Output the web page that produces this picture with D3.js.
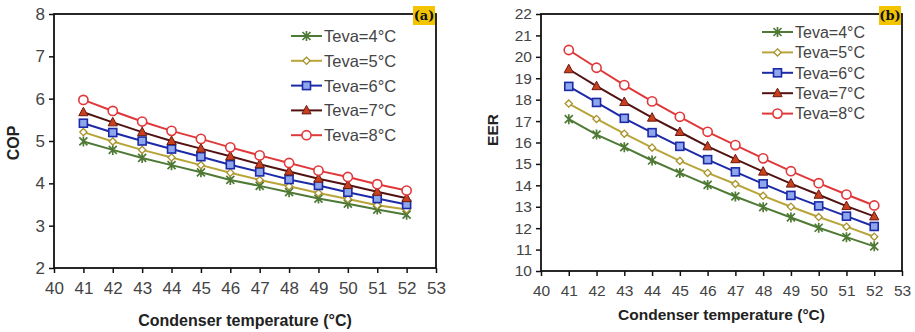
<!DOCTYPE html>
<html>
<head>
<meta charset="utf-8">
<script src="https://cdn.jsdelivr.net/npm/d3@7"></script>
<style>
  body { margin: 0; background: #fff; }
  svg { display: block; font-family: Arial, "Liberation Sans", sans-serif; }
</style>
</head>
<body>
<svg id="chart" width="915" height="332"></svg>
<script>
// condenser temperatures (°C)
const condTemps = [41, 42, 43, 44, 45, 46, 47, 48, 49, 50, 51, 52];
const seriesNames = ["Teva=4°C", "Teva=5°C", "Teva=6°C", "Teva=7°C", "Teva=8°C"];
const xTicks = [40, 41, 42, 43, 44, 45, 46, 47, 48, 49, 50, 51, 52, 53];

// panel (a) COP
const cop4 = [4.99, 4.79, 4.60, 4.43, 4.26, 4.08, 3.94, 3.79, 3.64, 3.52, 3.38, 3.26];
const cop5 = [5.21, 4.99, 4.79, 4.61, 4.43, 4.25, 4.08, 3.93, 3.77, 3.63, 3.48, 3.38];
const cop6 = [5.42, 5.20, 5.00, 4.81, 4.63, 4.44, 4.27, 4.09, 3.95, 3.79, 3.64, 3.50];
const cop7 = [5.68, 5.44, 5.21, 5.00, 4.82, 4.64, 4.45, 4.28, 4.11, 3.96, 3.80, 3.65];
const cop8 = [5.97, 5.71, 5.46, 5.24, 5.05, 4.85, 4.66, 4.48, 4.30, 4.15, 3.98, 3.83];
const copTicks = [2, 3, 4, 5, 6, 7, 8];

// panel (b) EER
const eer4 = [17.09, 16.37, 15.78, 15.16, 14.58, 14.02, 13.48, 12.98, 12.50, 12.02, 11.58, 11.15];
const eer5 = [17.82, 17.10, 16.41, 15.76, 15.14, 14.58, 14.06, 13.51, 13.00, 12.52, 12.07, 11.60];
const eer6 = [18.62, 17.87, 17.13, 16.46, 15.82, 15.20, 14.63, 14.07, 13.53, 13.04, 12.56, 12.08];
const eer7 = [19.42, 18.63, 17.89, 17.16, 16.49, 15.82, 15.22, 14.64, 14.08, 13.56, 13.03, 12.55];
const eer8 = [20.32, 19.49, 18.68, 17.92, 17.20, 16.50, 15.88, 15.26, 14.66, 14.10, 13.57, 13.06];
const eerTicks = [10, 11, 12, 13, 14, 15, 16, 17, 18, 19, 20, 21, 22];

// line / marker styles per series
const styles = [
  {line: "#4e7a35", stroke: "#4e7a35", fill: "#4e7a35", shape: "star"},
  {line: "#b9a43a", stroke: "#a8922a", fill: "#fff", shape: "diamond"},
  {line: "#1c2aa8", stroke: "#1c2aa8", fill: "#8ea6ec", shape: "square"},
  {line: "#521212", stroke: "#6a1a10", fill: "#c8401e", shape: "triangle"},
  {line: "#e0383a", stroke: "#e0383a", fill: "#fff", shape: "circle"}
];

const svg = d3.select("#chart");

function marker(g, shape, st) {
  if (shape === "circle") {
    g.append("circle").attr("r", 4.6).attr("fill", st.fill).attr("stroke", st.stroke).attr("stroke-width", 1.6);
  } else if (shape === "square") {
    g.append("rect").attr("x", -4).attr("y", -4).attr("width", 8).attr("height", 8)
      .attr("fill", st.fill).attr("stroke", st.stroke).attr("stroke-width", 1.6);
  } else if (shape === "triangle") {
    g.append("path").attr("d", "M0,-5L4.6,3.5L-4.6,3.5Z")
      .attr("fill", st.fill).attr("stroke", st.stroke).attr("stroke-width", 1);
  } else if (shape === "diamond") {
    g.append("path").attr("d", "M0,-3.6L3.6,0L0,3.6L-3.6,0Z")
      .attr("fill", st.fill).attr("stroke", st.stroke).attr("stroke-width", 1.3);
  } else {
    g.append("path").attr("d", "M-4,-4L4,4M-4,4L4,-4M0,-5L0,5")
      .attr("stroke", st.stroke).attr("stroke-width", 1.7);
  }
}

function drawPanel(p) {
  const x = d3.scaleLinear().domain([40, 53]).range([p.left, p.right]);
  const y = d3.scaleLinear().domain(p.yDomain).range([p.bottom, p.top]);
  const g = svg.append("g");

  // frame
  g.append("rect")
    .attr("x", p.left).attr("y", p.top)
    .attr("width", p.right - p.left).attr("height", p.bottom - p.top)
    .attr("fill", "none").attr("stroke", "#111").attr("stroke-width", 1.8);

  const xAxis = g.append("g").attr("transform", `translate(0,${p.bottom})`)
    .call(d3.axisBottom(x).tickValues(xTicks).tickSize(5).tickPadding(9).tickFormat(d3.format("d")));
  const yAxis = g.append("g").attr("transform", `translate(${p.left},0)`)
    .call(d3.axisLeft(y).tickValues(p.yTicks).tickSize(5).tickPadding(4).tickFormat(d3.format("d")));
  [xAxis, yAxis].forEach(a => {
    a.select(".domain").remove();
    a.selectAll(".tick line").attr("stroke", "#111").attr("stroke-width", 1.5);
    a.selectAll(".tick text").attr("fill", "#444").style("font-size", p.tickFont + "px")
      .style("font-family", "Arial, 'Liberation Sans', sans-serif");
  });

  const line = d3.line().x((d, i) => x(condTemps[i])).y(d => y(d));
  p.series.forEach((vals, k) => {
    const st = styles[k];
    g.append("path").datum(vals).attr("d", line)
      .attr("fill", "none").attr("stroke", st.line).attr("stroke-width", 2);
  });
  p.series.forEach((vals, k) => {
    const st = styles[k];
    vals.forEach((v, i) => {
      const m = g.append("g").attr("transform", `translate(${x(condTemps[i])},${y(v)})`);
      marker(m, st.shape, st);
    });
  });

  // legend
  const lg = g.append("g");
  seriesNames.forEach((name, k) => {
    const st = styles[k];
    const yy = p.legY + k * p.legStep;
    lg.append("line").attr("x1", p.legX).attr("x2", p.legX + 31).attr("y1", yy).attr("y2", yy)
      .attr("stroke", st.line).attr("stroke-width", 2);
    const m = lg.append("g").attr("transform", `translate(${p.legX + 15.5},${yy})`);
    marker(m, st.shape, st);
    lg.append("text").attr("x", p.legX + 33).attr("y", yy).attr("dy", "0.36em")
      .attr("fill", "#444").style("font-size", p.legFont + "px").text(name);
  });

  // axis titles
  g.append("text").attr("x", (p.left + p.right) / 2).attr("y", p.xTitleY)
    .attr("text-anchor", "middle").attr("fill", "#222").style("font-weight", "bold")
    .style("font-size", p.titleFont + "px").text("Condenser temperature (°C)");
  g.append("text").attr("transform", `translate(${p.yTitleX},${p.yTitleY}) rotate(-90)`)
    .attr("text-anchor", "middle").attr("fill", "#222").style("font-weight", "bold")
    .style("font-size", p.titleFont + "px").text(p.yLabel);

  // panel tag
  g.append("rect").attr("x", p.right - 23).attr("y", 6).attr("width", 22).attr("height", 19)
    .attr("fill", "#f2c500");
  g.append("text").attr("x", p.right - 12).attr("y", 20).attr("text-anchor", "middle")
    .style("font-family", "'DejaVu Serif', 'Liberation Serif', serif").style("font-weight", "bold")
    .style("font-size", "13px").attr("fill", "#111").text(p.tag);
}

drawPanel({
  left: 54, right: 436, top: 14, bottom: 268,
  yDomain: [2, 8], yTicks: copTicks, series: [cop4, cop5, cop6, cop7, cop8],
  tickFont: 17, legFont: 16.5, titleFont: 16,
  legX: 291, legY: 36, legStep: 24.8,
  xTitleY: 326, yTitleX: 19, yTitleY: 143, yLabel: "COP", tag: "(a)"
});

drawPanel({
  left: 541, right: 902, top: 14, bottom: 271,
  yDomain: [10, 22], yTicks: eerTicks, series: [eer4, eer5, eer6, eer7, eer8],
  tickFont: 15.5, legFont: 16, titleFont: 15.5,
  legX: 762, legY: 32, legStep: 20.4,
  xTitleY: 320, yTitleX: 498, yTitleY: 130, yLabel: "EER", tag: "(b)"
});
</script>
</body>
</html>
